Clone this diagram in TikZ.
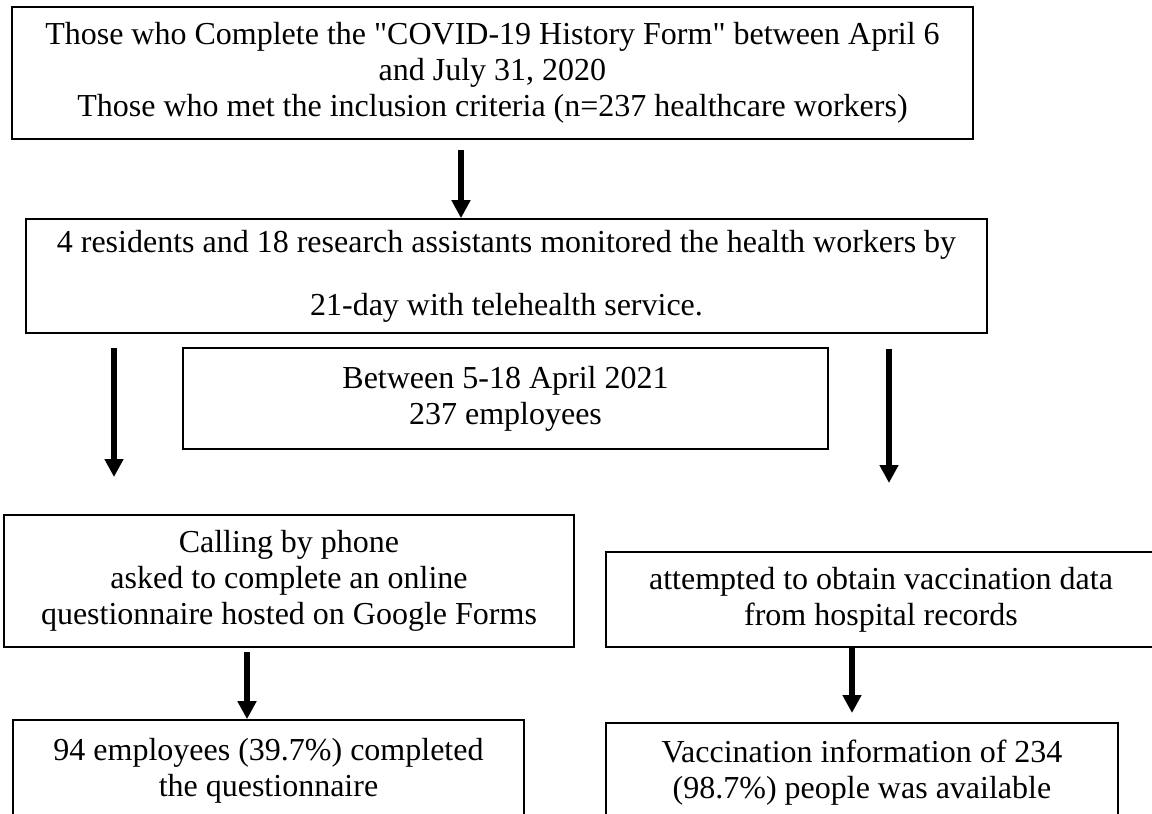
\documentclass[tikz,border=0pt]{standalone}
\usepackage{fontspec}
\setmainfont{Liberation Serif}[Ligatures=TeXOff]
\usetikzlibrary{arrows.meta}
\begin{document}
\begin{tikzpicture}[x=0.5pt,y=-0.5pt,
  box/.style={draw,line width=0.8pt,inner sep=0pt,align=center,font=\fontsize{16}{18}\selectfont},
  arr/.style={line width=2.8pt,-{Triangle[width=9pt,length=9pt]}}]
\useasboundingbox (0,0) rectangle (1152,814);
\clip (0,0) rectangle (1152,814);
\node[box,minimum width=480.5pt,minimum height=66pt] (b1) at (492.5,73)
  {Those who Complete the "COVID-19 History Form" between April 6\\and July 31, 2020\\Those who met the inclusion criteria (n=237 healthcare workers)};
\node[box,minimum width=480.5pt,minimum height=57pt] (b2) at (506.5,276)
  {4 residents and 18 research assistants monitored the health workers by\\[13.5pt]21-day with telehealth service.};
\node[box,minimum width=322.5pt,minimum height=50.5pt] (b3) at (505.5,398.5)
  {Between 5-18 April 2021\\237 employees};
\node[box,minimum width=285pt,minimum height=66pt] (b4) at (289,581)
  {Calling by phone\\asked to complete an online\\questionnaire hosted on Google Forms};
\node[box,minimum width=275pt,minimum height=47.5pt] (b5) at (881,599.5)
  {attempted to obtain vaccination data\\from hospital records};
\node[box,minimum width=255.5pt,minimum height=50.5pt] (b6) at (268.5,770.5)
  {94 employees (39.7\%) completed\\the questionnaire};
\node[box,minimum width=256pt,minimum height=50pt] (b7) at (862,773)
  {Vaccination information of 234\\(98.7\%) people was available};
\coordinate (a1s) at (461,150);
\coordinate (a2s) at (114,348);
\coordinate (a2e) at (114,477);
\coordinate (a3s) at (889,349);
\coordinate (a3e) at (889,483);
\coordinate (a4s) at (247,652);
\coordinate (a5e) at (852,713);
\draw[arr] (a1s) -- (a1s |- b2.north);
\draw[arr] (a2s) -- (a2e);
\draw[arr] (a3s) -- (a3e);
\draw[arr] (a4s) -- (a4s |- b6.north);
\draw[arr] (a5e |- b5.south) -- (a5e);
\end{tikzpicture}
\end{document}
